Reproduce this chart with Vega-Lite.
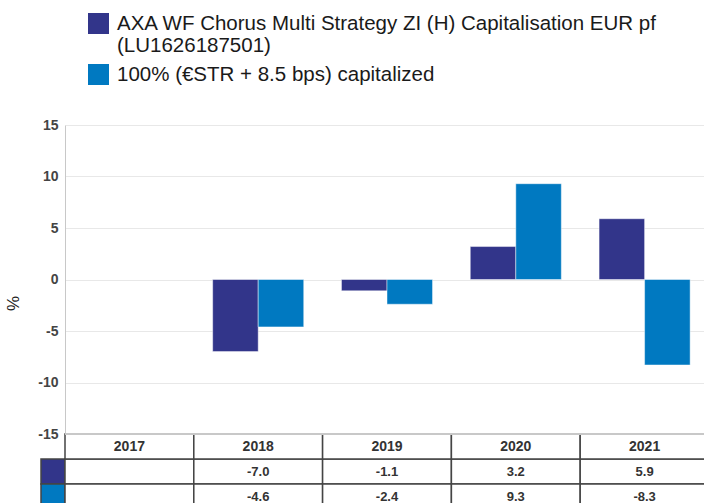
{
  "$schema": "https://vega.github.io/schema/vega-lite/v6.json",
  "padding": {"left": 4, "top": 13, "right": 0, "bottom": 0},
  "background": "white",
  "config": {"view": {"stroke": null}, "font": "Liberation Sans",
    "locale": {"number": {"decimal": ".", "thousands": ",", "grouping": [3], "currency": ["", ""], "minus": "-"}}},
  "datasets": {
    "perf": [
      {"year": "2017", "series": "AXA WF Chorus Multi Strategy ZI (H) Capitalisation EUR pf (LU1626187501)", "value": null},
      {"year": "2018", "series": "AXA WF Chorus Multi Strategy ZI (H) Capitalisation EUR pf (LU1626187501)", "value": -7.0},
      {"year": "2019", "series": "AXA WF Chorus Multi Strategy ZI (H) Capitalisation EUR pf (LU1626187501)", "value": -1.1},
      {"year": "2020", "series": "AXA WF Chorus Multi Strategy ZI (H) Capitalisation EUR pf (LU1626187501)", "value": 3.2},
      {"year": "2021", "series": "AXA WF Chorus Multi Strategy ZI (H) Capitalisation EUR pf (LU1626187501)", "value": 5.9},
      {"year": "2017", "series": "100% (€STR + 8.5 bps) capitalized", "value": null},
      {"year": "2018", "series": "100% (€STR + 8.5 bps) capitalized", "value": -4.6},
      {"year": "2019", "series": "100% (€STR + 8.5 bps) capitalized", "value": -2.4},
      {"year": "2020", "series": "100% (€STR + 8.5 bps) capitalized", "value": 9.3},
      {"year": "2021", "series": "100% (€STR + 8.5 bps) capitalized", "value": -8.3}
    ]
  },
  "columns": 2,
  "spacing": 0,
  "bounds": "flush",
  "resolve": {"scale": {"color": "independent", "x": "independent", "y": "independent"}, "legend": {"color": "independent"}},
  "concat": [
    {
      "width": 24,
      "height": 309,
      "data": {"name": "perf"},
      "mark": {"type": "rect", "opacity": 0},
      "encoding": {}
    },
    {
      "width": 644,
      "height": 309,
      "data": {"name": "perf"},
      "mark": {"type": "bar", "stroke": "#ffffff", "strokeOpacity": 0.45, "strokeWidth": 1},
      "encoding": {
        "x": {"field": "year", "type": "nominal", "scale": {"domain": ["2017", "2018", "2019", "2020", "2021"], "paddingInner": 0.293, "paddingOuter": 0.1465}, "axis": null},
        "xOffset": {"field": "series", "type": "nominal", "scale": {"domain": ["AXA WF Chorus Multi Strategy ZI (H) Capitalisation EUR pf (LU1626187501)", "100% (€STR + 8.5 bps) capitalized"]}},
        "y": {"field": "value", "type": "quantitative", "scale": {"domain": [-15, 15], "nice": false},
          "axis": {"values": [-15, -10, -5, 0, 5, 10, 15], "title": "%", "grid": true, "gridColor": "#e8e8e8", "domainColor": "#c8c8c8", "ticks": false, "labelPadding": 7, "labelFont": "Liberation Sans", "labelFontWeight": "bold", "labelFontSize": 14, "labelColor": "#444444", "titleFont": "Liberation Sans", "titleFontSize": 17, "titleFontWeight": "normal", "titleColor": "#222222", "titleX": -43, "titleY": 178}},
        "color": {"field": "series", "type": "nominal",
          "scale": {"domain": ["AXA WF Chorus Multi Strategy ZI (H) Capitalisation EUR pf (LU1626187501)", "100% (€STR + 8.5 bps) capitalized"], "range": ["#32358a", "#0079c1"]},
          "legend": {"orient": "none", "legendX": 23, "legendY": -112, "title": null, "padding": 0, "direction": "vertical",
            "symbolType": "square", "symbolSize": 441, "symbolStrokeWidth": 0, "symbolOpacity": 1,
            "labelFont": "Liberation Sans", "labelFontSize": 20.5, "labelColor": "#1a1a1a", "labelLimit": 800, "labelOffset": 8, "rowPadding": 7, "labelBaseline": "middle",
            "labelExpr": "datum.label == 'AXA WF Chorus Multi Strategy ZI (H) Capitalisation EUR pf (LU1626187501)' ? ['AXA WF Chorus Multi Strategy ZI (H) Capitalisation EUR pf', '(LU1626187501)'] : datum.label"}}
      }
    },
    {
      "width": 24,
      "height": 75,
      "data": {"name": "perf"},
      "transform": [{"aggregate": [{"op": "count", "as": "n"}], "groupby": ["series"]}],
      "mark": {"type": "rect", "stroke": "#444444", "strokeWidth": 1.5},
      "encoding": {
        "y": {"field": "series", "type": "nominal", "scale": {"domain": ["Year", "AXA WF Chorus Multi Strategy ZI (H) Capitalisation EUR pf (LU1626187501)", "100% (€STR + 8.5 bps) capitalized"], "paddingInner": 0, "paddingOuter": 0}, "axis": null},
        "color": {"field": "series", "type": "nominal", "scale": {"domain": ["AXA WF Chorus Multi Strategy ZI (H) Capitalisation EUR pf (LU1626187501)", "100% (€STR + 8.5 bps) capitalized"], "range": ["#32358a", "#0079c1"]}, "legend": null}
      }
    },
    {
      "width": 644,
      "height": 75,
      "encoding": {
        "x": {"field": "year", "type": "nominal", "scale": {"domain": ["2017", "2018", "2019", "2020", "2021"], "paddingInner": 0, "paddingOuter": 0}, "axis": null}
      },
      "layer": [
        {
          "data": {"name": "perf"},
          "mark": {"type": "rect", "fill": "white", "stroke": "#444444", "strokeWidth": 1.5},
          "encoding": {
            "y": {"field": "series", "type": "nominal", "scale": {"domain": ["Year", "AXA WF Chorus Multi Strategy ZI (H) Capitalisation EUR pf (LU1626187501)", "100% (€STR + 8.5 bps) capitalized"], "paddingInner": 0, "paddingOuter": 0}, "axis": null}
          }
        },
        {
          "data": {"name": "perf"},
          "transform": [{"filter": "isValid(datum.value)"}],
          "mark": {"type": "text", "fontWeight": "bold", "fontSize": 13, "color": "#333333", "font": "Liberation Sans"},
          "encoding": {
            "y": {"field": "series", "type": "nominal"},
            "text": {"field": "value", "type": "quantitative", "format": ".1f"}
          }
        },
        {
          "data": {"name": "perf"},
          "transform": [{"aggregate": [{"op": "count", "as": "n"}], "groupby": ["year"]}],
          "mark": {"type": "rect", "fill": "white", "stroke": "#444444", "strokeWidth": 1.5},
          "encoding": {"y": {"datum": "Year"}}
        },
        {
          "data": {"name": "perf"},
          "transform": [{"aggregate": [{"op": "count", "as": "n"}], "groupby": ["year"]}],
          "mark": {"type": "rule", "color": "#c8c8c8", "strokeWidth": 1.5},
          "encoding": {"y": {"datum": "Year", "bandPosition": 0}, "x": {"value": 0}, "x2": {"value": 644}}
        },
        {
          "data": {"name": "perf"},
          "transform": [{"aggregate": [{"op": "count", "as": "n"}], "groupby": ["year"]}],
          "mark": {"type": "text", "fontWeight": "bold", "fontSize": 14, "color": "#333333", "font": "Liberation Sans"},
          "encoding": {"y": {"datum": "Year"}, "text": {"field": "year"}}
        }
      ]
    }
  ]
}
